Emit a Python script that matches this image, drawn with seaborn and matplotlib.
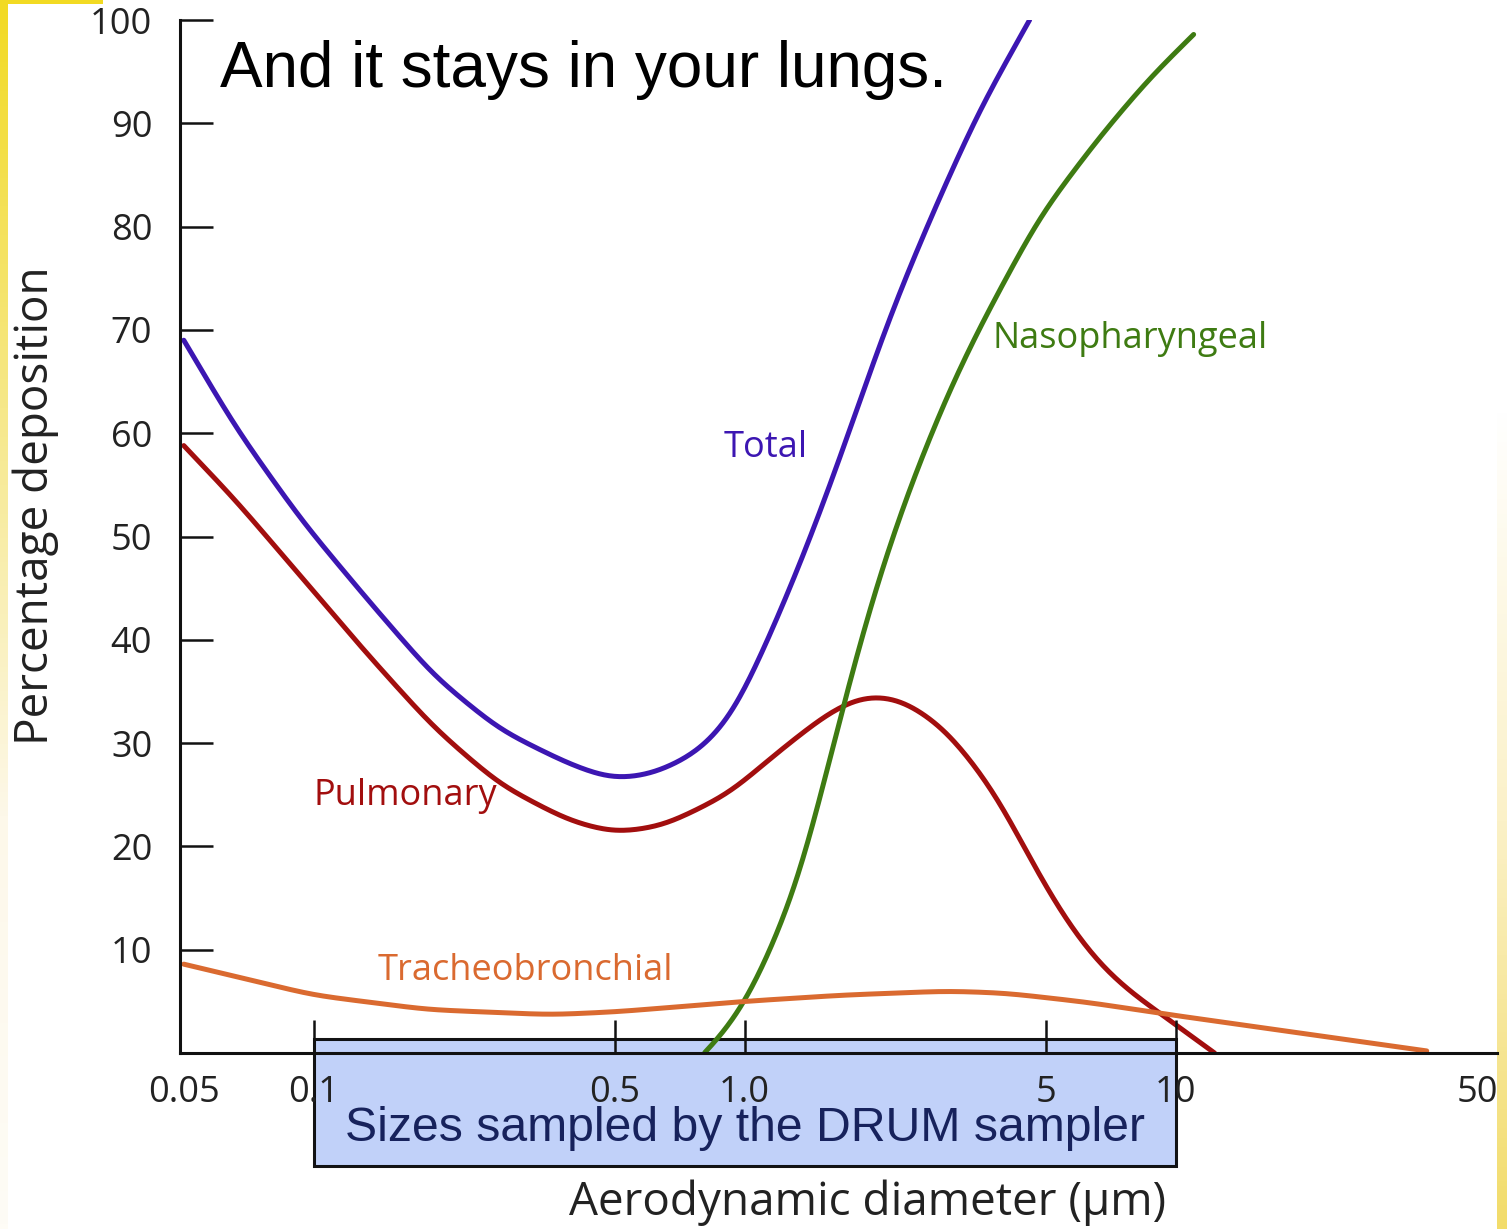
import numpy as np
import pandas as pd
import matplotlib
matplotlib.use("Agg")
import matplotlib.pyplot as plt
from matplotlib.patches import Rectangle
import seaborn as sns

# Deposition curves (x = aerodynamic diameter in um, y = % deposition)
total_x = [0.05, 0.066, 0.094, 0.134, 0.19, 0.27, 0.39, 0.49, 0.6, 0.66, 0.786, 0.938, 1.02,
           1.16, 1.3, 1.53, 1.71, 1.83, 2.2, 2.76, 3.51, 4.58]
total_y = [69, 60.5, 51.5, 43.8, 36.5, 31.3, 28.0, 26.5, 26.9, 27.6, 29.2, 32.6, 35.8,
           41.0, 45.8, 53.4, 59.0, 62.6, 72.0, 81.8, 91.4, 100]

pulm_x = [0.05, 0.066, 0.094, 0.134, 0.19, 0.27, 0.39, 0.5, 0.65, 0.92, 1.2, 1.57, 1.85, 2.05,
          2.33, 2.9, 3.4, 3.9, 4.7, 5.6, 6.7, 8.0, 9.6, 12.3]
pulm_y = [58.8, 53.5, 46, 38.5, 31.5, 26, 22.5, 21.3, 22.0, 25.1, 29.2, 33.0, 34.5, 34.6,
          34.2, 31.5, 28.0, 24.5, 18.0, 12.6, 8.4, 5.6, 3.3, 0]

naso_x = [0.808, 0.9, 1.016, 1.15, 1.34, 1.706, 1.97, 2.35, 2.91, 3.47, 4.83, 6.66, 8.7, 11.0]
naso_y = [0, 2.0, 5.1, 10.0, 16.7, 34.2, 43.9, 53.5, 63.2, 69.9, 81.0, 88.7, 94.4, 98.6]

trach_x = [0.05, 0.1, 0.184, 0.356, 0.509, 1.0, 1.68, 2.96, 4.03, 6.26, 9.72, 18.9, 38.2]
trach_y = [8.6, 5.6, 4.2, 3.7, 4.0, 5.0, 5.6, 6.0, 5.8, 4.9, 3.7, 2.0, 0.2]

regions = ["Total", "Pulmonary", "Nasopharyngeal", "Tracheobronchial"]
colors = {"Total": "#3c16b2", "Pulmonary": "#a20e0e",
          "Nasopharyngeal": "#3e7b12", "Tracheobronchial": "#da6a30"}

x_ticks = [0.05, 0.1, 0.5, 1, 5, 10, 50]
x_ticklabels = ["0.05", "0.1", "0.5", "1.0", "5", "10", "50"]
y_ticks = [10, 20, 30, 40, 50, 60, 70, 80, 90, 100]

df = pd.concat([
    pd.DataFrame({"diameter": total_x, "deposition": total_y, "region": "Total"}),
    pd.DataFrame({"diameter": pulm_x, "deposition": pulm_y, "region": "Pulmonary"}),
    pd.DataFrame({"diameter": naso_x, "deposition": naso_y, "region": "Nasopharyngeal"}),
    pd.DataFrame({"diameter": trach_x, "deposition": trach_y, "region": "Tracheobronchial"}),
])


# the read-off points are joined and then smoothed a little in log-x so the lines look hand drawn
def smooth_curve(xs, ys, sigma=0.04, n=500):
    lx = np.log10(xs)
    grid = np.linspace(lx[0], lx[-1], n)
    yy = np.interp(grid, lx, ys)
    step = grid[1] - grid[0]
    half = int(4 * sigma / step)
    k = np.exp(-0.5 * (np.arange(-half, half + 1) * step / sigma) ** 2)
    k /= k.sum()
    # pad by linear extrapolation so the ends stay in place
    left = yy[0] - (yy[1] - yy[0]) * np.arange(half, 0, -1)
    right = yy[-1] + (yy[-1] - yy[-2]) * np.arange(1, half + 1)
    sm = np.convolve(np.concatenate([left, yy, right]), k, mode="valid")
    return 10 ** grid, sm


rows = []
for name, g in df.groupby("region"):
    sx, sy = smooth_curve(g["diameter"].values, g["deposition"].values)
    rows.append(pd.DataFrame({"diameter": sx, "deposition": sy, "region": name}))
smooth = pd.concat(rows)

sns.set_theme(style="ticks")
plt.rcParams["font.family"] = ["Open Sans", "DejaVu Sans"]

fig = plt.figure(figsize=(15.07, 12.29), dpi=100)
fig.patch.set_facecolor("white")

# slide decoration strips
grad = np.linspace(0, 1, 256)[:, None]
left_cm = matplotlib.colors.LinearSegmentedColormap.from_list("l", ["#f2da22", "#f6e88a", "#fdf8ea", "#fefcf6"])
lax = fig.add_axes([0, 0, 8 / 1507, 1])
lax.imshow(grad, aspect="auto", cmap=left_cm, extent=[0, 1, 1, 0])
lax.axis("off")
tax = fig.add_axes([0, 1 - 4 / 1229, 103 / 1507, 4 / 1229])
tax.axis("off")
tax.add_patch(Rectangle((0, 0), 1, 1, color="#f2da22", transform=tax.transAxes))
right_cm = matplotlib.colors.LinearSegmentedColormap.from_list("r", ["#ffffff", "#ffffff", "#fbf1c8", "#f2dc6a"])
rax = fig.add_axes([1497 / 1507, 0, 10 / 1507, 1])
rax.imshow(grad, aspect="auto", cmap=right_cm, extent=[0, 1, 1, 0])
rax.axis("off")

ax = fig.add_axes([180 / 1507, 1 - 1053 / 1229, 1317 / 1507, 1033 / 1229])
ax.set_axisbelow(False)
sns.lineplot(data=smooth, x="diameter", y="deposition", hue="region", hue_order=regions,
             palette=colors, estimator=None, sort=False, linewidth=3.6, legend=False, ax=ax)

ax.set_xscale("log")
ax.set_xlim(0.049, 55.6)
ax.set_ylim(0, 100)
sns.despine(ax=ax)
for side in ["left", "bottom"]:
    ax.spines[side].set_linewidth(2.2)
    ax.spines[side].set_color("#111111")

ax.set_xticks(x_ticks)
ax.set_xticklabels(x_ticklabels)
ax.xaxis.set_minor_locator(matplotlib.ticker.NullLocator())
ax.set_yticks(y_ticks)
ax.tick_params(axis="both", direction="in", length=24, width=1.8, colors="#111111",
               labelsize=26, labelcolor="#222222")
ax.tick_params(axis="x", pad=16)
ax.tick_params(axis="y", pad=20)
ax.xaxis.get_major_ticks()[0].tick1line.set_visible(False)
ax.xaxis.get_major_ticks()[-1].tick1line.set_visible(False)

ax.set_xlabel("Aerodynamic diameter (µm)", fontsize=33, color="#222222")
ax.set_ylabel("Percentage deposition", fontsize=33, color="#222222")
ax.xaxis.set_label_coords(0.522, -0.122)
ax.yaxis.set_label_coords(-0.092, 0.53)

# curve labels
ax.text(1.12, 58.6, "Total", color=colors["Total"], fontsize=26, ha="center", va="center")
ax.text(3.76, 69.1, "Nasopharyngeal", color=colors["Nasopharyngeal"], fontsize=26, ha="left", va="center")
ax.text(0.1, 24.9, "Pulmonary", color=colors["Pulmonary"], fontsize=26, ha="left", va="center")
ax.text(0.141, 7.9, "Tracheobronchial", color=colors["Tracheobronchial"], fontsize=26, ha="left", va="center")

# DRUM sampler size range (sits under the axis, ticks and labels)
ax.add_patch(Rectangle((0.1, -10.9), 9.9, 12.3, facecolor="#bccdf9", alpha=0.92,
                       edgecolor="black", linewidth=2.2, clip_on=False, zorder=1))
ax.text(1.0, -7.3, "Sizes sampled by the DRUM sampler", fontsize=34.7, color="#17225c",
        ha="center", va="center", family=["Liberation Sans", "DejaVu Sans"], zorder=7)

fig.text(220 / 1507, 1 - 70 / 1229, "And it stays in your lungs.", fontsize=46, color="black",
         ha="left", va="center", family=["Liberation Sans", "DejaVu Sans"])

fig.savefig("out.png", dpi=100, facecolor="white")
